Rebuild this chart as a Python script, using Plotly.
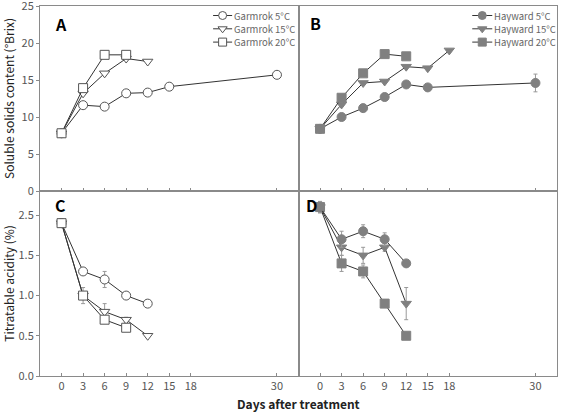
import plotly.graph_objects as go
from plotly.subplots import make_subplots

# ---------------- data ----------------
tick_days = [0, 3, 6, 9, 12, 15, 18, 30]
tick_day_labels = ["0", "3", "6", "9", "12", "15", "18", "30"]

ssc_ticks = [0, 5, 10, 15, 20, 25]
ssc_tick_labels = ["0", "5", "10", "15", "20", "25"]
ta_ticks = [0.0, 0.5, 1.0, 1.5, 2.0]
ta_tick_labels = ["0.0", "0.5", "1.0", "1.5", "2.5"]

garmrok_names = ["Garmrok 5°C", "Garmrok 15°C", "Garmrok 20°C"]
hayward_names = ["Hayward 5°C", "Hayward 15°C", "Hayward 20°C"]

# Garmrok soluble solids (°Brix)
g_days_5 = [0, 3, 6, 9, 12, 15, 30]
g_ssc_5 = [7.8, 11.6, 11.4, 13.2, 13.3, 14.1, 15.7]
g_days_15 = [0, 3, 6, 9, 12]
g_ssc_15 = [7.8, 13.2, 15.9, 17.9, 17.5]
g_days_20 = [0, 3, 6, 9]
g_ssc_20 = [7.8, 13.9, 18.4, 18.4]

# Hayward soluble solids (°Brix)
h_days_5 = [0, 3, 6, 9, 12, 15, 30]
h_ssc_5 = [8.4, 10.0, 11.2, 12.7, 14.4, 14.0, 14.6]
h_ssc_5_err = [0, 0, 0, 0, 0, 0, 1.2]
h_days_15 = [0, 3, 6, 9, 12, 15, 18]
h_ssc_15 = [8.4, 11.7, 14.6, 14.8, 16.8, 16.6, 19.0]
h_days_20 = [0, 3, 6, 9, 12]
h_ssc_20 = [8.4, 12.6, 15.9, 18.5, 18.2]

# Garmrok titratable acidity (%)
g_ta_days_5 = [0, 3, 6, 9, 12]
g_ta_5 = [1.9, 1.3, 1.2, 1.0, 0.9]
g_ta_5_err = [0.03, 0.03, 0.1, 0.03, 0.03]
g_ta_days_15 = [0, 3, 6, 9, 12]
g_ta_15 = [1.9, 1.0, 0.8, 0.7, 0.5]
g_ta_15_err = [0.03, 0.1, 0.1, 0.03, 0.0]
g_ta_days_20 = [0, 3, 6, 9]
g_ta_20 = [1.9, 1.0, 0.7, 0.6]
g_ta_20_err = [0.03, 0.05, 0.03, 0.03]

# Hayward titratable acidity (%)
h_ta_days_5 = [0, 3, 6, 9, 12]
h_ta_5 = [2.1, 1.7, 1.8, 1.7, 1.4]
h_ta_5_err = [0.07, 0.1, 0.08, 0.08, 0.0]
h_ta_days_15 = [0, 3, 6, 9, 12]
h_ta_15 = [2.1, 1.6, 1.5, 1.6, 0.9]
h_ta_15_err = [0.07, 0.1, 0.1, 0.05, 0.2]
h_ta_days_20 = [0, 3, 6, 9, 12]
h_ta_20 = [2.1, 1.4, 1.3, 0.9, 0.5]
h_ta_20_err = [0.07, 0.1, 0.08, 0.0, 0.0]

# ---------------- styling ----------------
FONT = "Noto Sans CJK KR"
LINE_C = "#333333"
OPEN_C = "#555555"
FILL_C = "#808080"
ERR_C = "#999999"
AX_C = "#8a8a8a"
SYMBOLS = ["circle", "triangle-down", "square"]

fig = make_subplots(rows=2, cols=2, horizontal_spacing=0, vertical_spacing=0)


def marker_style(symbol, filled, size):
    if filled:
        return dict(symbol=symbol, size=size, color=FILL_C, line=dict(color=FILL_C, width=1))
    return dict(symbol=symbol, size=size, color="white", line=dict(color=OPEN_C, width=1))


def add(row, col, x, y, name, symbol, filled, err=None):
    kw = {}
    if err is not None:
        kw["error_y"] = dict(type="data", array=err, visible=True, color=ERR_C, thickness=1, width=2)
    fig.add_trace(
        go.Scatter(
            x=x, y=y, name=name, mode="lines+markers",
            line=dict(color=LINE_C, width=1), marker=marker_style(symbol, filled, 9),
            showlegend=False, **kw
        ),
        row=row, col=col,
    )


# A
add(1, 1, g_days_5, g_ssc_5, garmrok_names[0], SYMBOLS[0], False)
add(1, 1, g_days_15, g_ssc_15, garmrok_names[1], SYMBOLS[1], False)
add(1, 1, g_days_20, g_ssc_20, garmrok_names[2], SYMBOLS[2], False)
# B
add(1, 2, h_days_5, h_ssc_5, hayward_names[0], SYMBOLS[0], True, h_ssc_5_err)
add(1, 2, h_days_15, h_ssc_15, hayward_names[1], SYMBOLS[1], True)
add(1, 2, h_days_20, h_ssc_20, hayward_names[2], SYMBOLS[2], True)
# C
add(2, 1, g_ta_days_5, g_ta_5, garmrok_names[0], SYMBOLS[0], False, g_ta_5_err)
add(2, 1, g_ta_days_15, g_ta_15, garmrok_names[1], SYMBOLS[1], False, g_ta_15_err)
add(2, 1, g_ta_days_20, g_ta_20, garmrok_names[2], SYMBOLS[2], False, g_ta_20_err)
# D
add(2, 2, h_ta_days_20, h_ta_20, hayward_names[2], SYMBOLS[2], True, h_ta_20_err)
add(2, 2, h_ta_days_15, h_ta_15, hayward_names[1], SYMBOLS[1], True, h_ta_15_err)
add(2, 2, h_ta_days_5, h_ta_5, hayward_names[0], SYMBOLS[0], True, h_ta_5_err)

W, H = 562, 413
L, R, T, B = 40, 5.3, 6, 37

axis_common = dict(showline=True, linecolor=AX_C, linewidth=1, mirror=True,
                   showgrid=False, zeroline=False, ticklabeloverflow="allow",
                   automargin=False,
                   tickfont=dict(family=FONT, size=11, color="#555555"))

for r in (1, 2):
    for c in (1, 2):
        fig.update_xaxes(
            range=[-3, 33], tickmode="array", tickvals=tick_days,
            ticktext=tick_day_labels, ticks="inside", ticklen=3, tickcolor=AX_C,
            showticklabels=(r == 2), **axis_common, row=r, col=c,
        )

fig.update_yaxes(range=[0, 25], tickmode="array", tickvals=ssc_ticks, ticktext=ssc_tick_labels,
                 ticks="outside", ticklen=3, tickcolor=AX_C, **axis_common, row=1, col=1)
fig.update_yaxes(range=[0, 25], showticklabels=False, ticks="", **axis_common, row=1, col=2)
fig.update_yaxes(range=[0, 2.3], tickmode="array", tickvals=ta_ticks, ticktext=ta_tick_labels,
                 ticks="outside", ticklen=3, tickcolor=AX_C, **axis_common, row=2, col=1)
fig.update_yaxes(range=[0, 2.3], showticklabels=False, ticks="", **axis_common, row=2, col=2)

fig.update_yaxes(title=dict(text="Soluble solids content (°Brix)", standoff=6,
                            font=dict(family=FONT, size=12, color="#222222")), row=1, col=1)
fig.update_yaxes(title=dict(text="Titratable acidity (%)", standoff=6,
                            font=dict(family=FONT, size=12, color="#222222")), row=2, col=1)

# overlay axis in pixel units for the hand-made legends
fig.update_layout(
    xaxis5=dict(domain=[0, 1], anchor="y5", range=[L, W - R], visible=False,
                fixedrange=True, automargin=False),
    yaxis5=dict(domain=[0, 1], anchor="x5", range=[H - B, T], visible=False,
                fixedrange=True, automargin=False),
)

legend_rows = [15.5, 28.8, 42.1]


def draw_legend(names, filled, x_line0, x_line1, x_text):
    xc = (x_line0 + x_line1) / 2
    for i, (name, sym) in enumerate(zip(names, SYMBOLS)):
        yy = legend_rows[i]
        fig.add_trace(go.Scatter(
            x=[x_line0, x_line1], y=[yy, yy], mode="lines",
            line=dict(color=LINE_C, width=1), xaxis="x5", yaxis="y5",
            showlegend=False, hoverinfo="skip"))
        fig.add_trace(go.Scatter(
            x=[xc], y=[yy], mode="markers", marker=marker_style(sym, filled, 8),
            xaxis="x5", yaxis="y5", showlegend=False, hoverinfo="skip"))
        fig.add_annotation(text=name, x=x_text, y=yy, xref="x5", yref="y5",
                           showarrow=False, xanchor="left", yanchor="middle",
                           height=12, valign="middle", borderpad=0,
                           font=dict(family=FONT, size=9.5, color="#666666"))


draw_legend(garmrok_names, False, 213, 232, 233)
draw_legend(hayward_names, True, 472, 492, 493)

letters = [("A", 0.041, 0.951), ("B", 0.532, 0.955), ("C", 0.039, 0.461), ("D", 0.526, 0.461)]
for txt, x, y in letters:
    fig.add_annotation(text="<b>" + txt + "</b>", x=x, y=y, xref="paper", yref="paper",
                       showarrow=False, xanchor="center", yanchor="middle",
                       font=dict(family=FONT, size=16, color="black"))

fig.add_annotation(text="<b>Days after treatment</b>", x=0.5, y=-0.074, xref="paper", yref="paper",
                   showarrow=False, xanchor="center", yanchor="middle",
                   font=dict(family=FONT, size=12, color="#222222"))

fig.update_layout(
    width=W, height=H,
    margin=dict(l=L, r=R, t=T, b=B),
    plot_bgcolor="rgba(0,0,0,0)", paper_bgcolor="white",
    font=dict(family=FONT),
    showlegend=False,
)

fig.write_html("out.html")
